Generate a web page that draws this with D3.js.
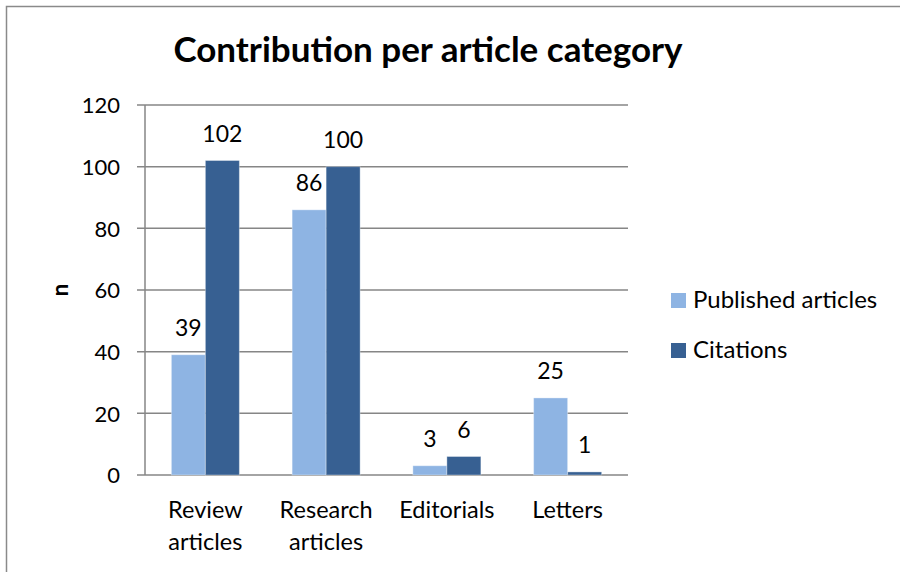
<!DOCTYPE html>
<html><head><meta charset="utf-8">
<script src="https://cdn.jsdelivr.net/npm/d3@7"></script>
<style>body{margin:0;background:#fff}svg{display:block}text{font-family:Lato,"Open Sans",sans-serif;fill:#000}</style>
</head><body><svg id="c" width="900" height="572"></svg>
<script>
const categories = [["Review","articles"],["Research","articles"],["Editorials"],["Letters"]];
const seriesNames = ["Published articles","Citations"];
const published = [39,86,3,25];
const citations = [102,100,6,1];
const yTicks = [0,20,40,60,80,100,120];
const colors = ["#8EB4E3","#376092"];

const svg = d3.select("#c");
svg.append("rect").attr("x",6.5).attr("y",6.5).attr("width",900).attr("height",600)
  .attr("fill","none").attr("stroke","#8a8a8a").attr("stroke-width",1.5);

const pL=145,pR=628,pT=105,pB=475;
const x = d3.scaleBand().domain(d3.range(categories.length)).range([pL,pR]).paddingInner(0).paddingOuter(0);
const y = d3.scaleLinear().domain([0,120]).range([pB,pT]);
const inner = d3.scaleBand().domain([0,1]).range([0,x.bandwidth()]).paddingOuter(0.776).paddingInner(0);

// gridlines
svg.append("g").selectAll("line").data(yTicks).join("line")
  .attr("x1",137).attr("x2",pR).attr("y1",d=>y(d)).attr("y2",d=>y(d))
  .attr("stroke","#868686").attr("stroke-width",1.5);
// y axis line
svg.append("line").attr("x1",pL).attr("x2",pL).attr("y1",pT).attr("y2",pB)
  .attr("stroke","#868686").attr("stroke-width",1.5);

const yAxis = d3.axisLeft(y).tickValues(yTicks).tickSize(0).tickPadding(0);
const ga = svg.append("g").attr("transform",`translate(120,0)`).call(yAxis);
ga.select(".domain").remove();
ga.selectAll("text").attr("font-size",22).attr("font-family","Lato,'Open Sans',sans-serif").attr("fill","#000").attr("dy","0.36em").attr("x",0);

const data = [published,citations];
data.forEach((vals,s)=>{
  svg.append("g").selectAll("rect").data(vals).join("rect")
    .attr("x",(d,i)=>x(i)+inner(s)).attr("width",inner.bandwidth())
    .attr("y",d=>y(d)).attr("height",d=>pB-y(d))
    .attr("fill",colors[s]).attr("stroke","rgba(255,255,255,0.35)").attr("stroke-width",1);
  svg.append("g").selectAll("text").data(vals).join("text")
    .attr("x",(d,i)=>x(i)+inner(s)+inner.bandwidth()/2).attr("y",d=>y(d)-19)
    .attr("text-anchor","middle").attr("font-size",23).text(d=>d);
});

// category labels
categories.forEach((lines,i)=>{
  const cx = x(i)+x.bandwidth()/2;
  const t = svg.append("text").attr("x",cx).attr("y",518).attr("text-anchor","middle").attr("font-size",23.5);
  lines.forEach((l,j)=>t.append("tspan").attr("x",cx).attr("dy",j?32:0).text(l));
});

// title
svg.append("text").attr("x",428).attr("y",62).attr("text-anchor","middle").attr("font-size",35).attr("font-weight","bold").text("Contribution per article category");
// y label
svg.append("text").attr("transform","translate(68,290) rotate(-90)").attr("text-anchor","middle").attr("font-size",22).attr("font-weight","bold").text("n");

// legend
seriesNames.forEach((n,i)=>{
  const yy = 293 + i*50;
  svg.append("rect").attr("x",671).attr("y",yy).attr("width",15).attr("height",15).attr("fill",colors[i]);
  svg.append("text").attr("x",693).attr("y",yy+15).attr("font-size",24).text(n);
});
</script></body></html>
